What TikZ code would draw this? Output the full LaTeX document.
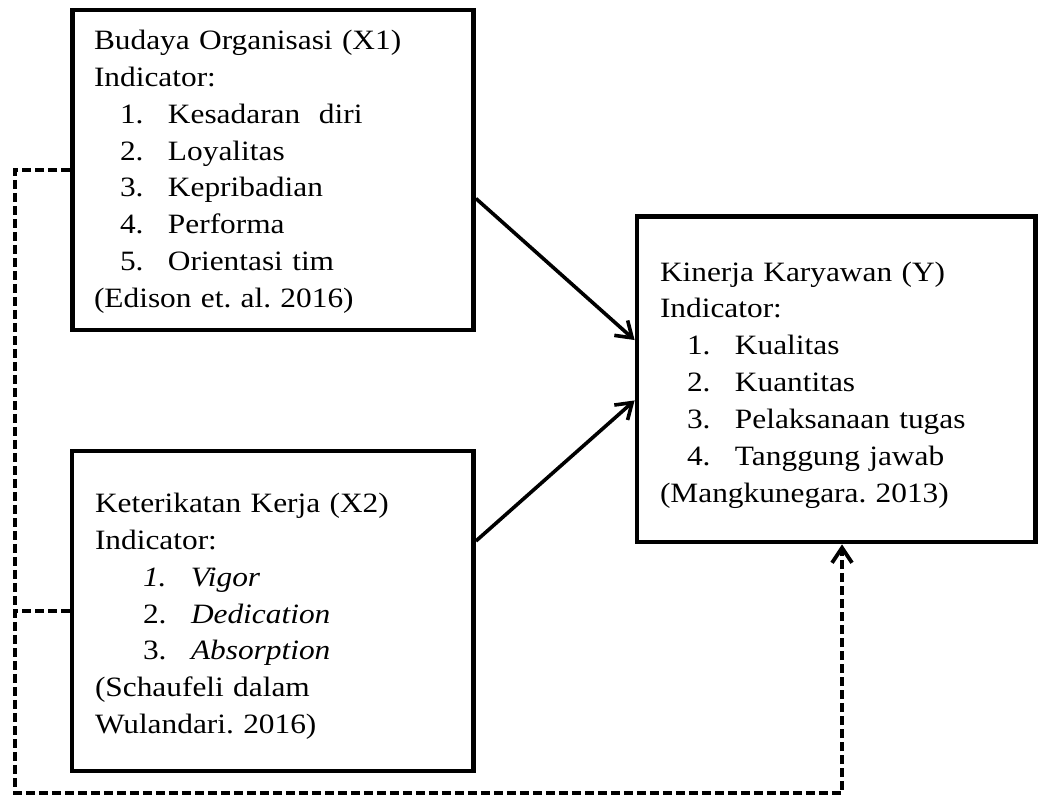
\documentclass[tikz,border=0pt]{standalone}
\usepackage{fontspec}
\setmainfont{Liberation Serif}[FakeStretch=1.12]
\usetikzlibrary{arrows.meta}
\frenchspacing
\newcommand{\indline}[3]{\hspace*{#1}\makebox[24pt][l]{#2}#3}

\begin{document}
\begin{tikzpicture}[x=0.5pt, y=0.5pt, font=\fontsize{14pt}{18.45pt}\selectfont,
  varbox/.style={draw, line width=2.4pt, align=left, inner ysep=0pt},
  flow/.style={-{Straight Barb[length=7.5pt,width=10pt]}, line width=1.8pt},
  link/.style={line width=1.9pt, dash pattern=on 4.5pt off 2pt}]
\useasboundingbox (0,0) rectangle (1038,796);
% variables
\node[varbox, minimum width=200.5pt, minimum height=160pt, text width=179pt, inner xsep=10.75pt, text height=11.5pt] (x1) at (273,626) {Budaya Organisasi (X1)\\ Indicator:\\
  \indline{13pt}{1.}{Kesadaran\ \ diri}\\ \indline{13pt}{2.}{Loyalitas}\\
  \indline{13pt}{3.}{Kepribadian}\\ \indline{13pt}{4.}{Performa}\\
  \indline{13pt}{5.}{Orientasi tim}\\ (Edison et. al. 2016)};
\node[varbox, minimum width=200.75pt, minimum height=160pt, text width=177.75pt, inner xsep=11.5pt, text height=15pt] (x2) at (272.75,185) {Keterikatan Kerja (X2)\\ Indicator:\\
  \indline{24pt}{\textit{1.}}{\textit{Vigor}}\\ \indline{24pt}{2.}{\textit{Dedication}}\\
  \indline{24pt}{3.}{\textit{Absorption}}\\ (Schaufeli dalam\\ Wulandari. 2016)};
\node[varbox, minimum width=199.25pt, minimum height=162.75pt, text width=176.25pt, inner xsep=11.5pt, text height=15.5pt] (y) at (836.25,416.75) {Kinerja Karyawan (Y)\\ Indicator:\\
  \indline{13.5pt}{1.}{Kualitas}\\ \indline{13.5pt}{2.}{Kuantitas}\\
  \indline{13.5pt}{3.}{Pelaksanaan tugas}\\ \indline{13.5pt}{4.}{Tanggung jawab}\\
  (Mangkunegara. 2013)};
% paths
\draw[flow] (x1.-8.5) -- (y.169);
\draw[flow] (x2.19) -- (y.-174);
\coordinate (lb) at (15,3);
\coordinate (rb) at (842,3);
\draw[link] (x2.west) -- (x2.west -| lb);
\draw[link, -{Straight Barb[length=7.5pt,width=10pt]}] (x1.west) -| (lb) -- (rb) -- (rb |- y.south);
\end{tikzpicture}
\end{document}
